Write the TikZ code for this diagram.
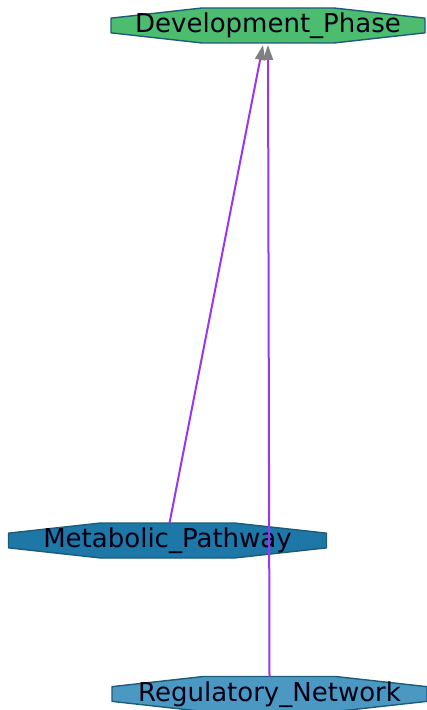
\documentclass[tikz,border=0pt]{standalone}
\usepackage{fontspec}
\setmainfont{DejaVu Sans}
\usepackage{tikz}
\usetikzlibrary{arrows.meta, positioning, calc, backgrounds}

\definecolor{phasegreen}{HTML}{4CBC6E}
\definecolor{pathblue}{HTML}{1D77A7}
\definecolor{netblue}{HTML}{4B99C3}
\definecolor{octoborder}{HTML}{1B5C78}
\definecolor{edgepurple}{HTML}{9B35F5}

% flat octagon drawn behind a named node
\newcommand{\octoshape}[2]{%
  \begin{scope}[on background layer]
    \filldraw[fill=#2, draw=octoborder, line width=0.7pt, line join=round]
      ($(#1.west)!0.42!(#1.north west)$) -- ($(#1.north west)!0.29!(#1.north east)$)
      -- ($(#1.north east)!0.29!(#1.north west)$) -- ($(#1.east)!0.42!(#1.north east)$)
      -- ($(#1.east)!0.42!(#1.south east)$) -- ($(#1.south east)!0.29!(#1.south west)$)
      -- ($(#1.south west)!0.29!(#1.south east)$) -- ($(#1.west)!0.42!(#1.south west)$) -- cycle;
  \end{scope}}

\begin{document}
\begin{tikzpicture}[x=0.5pt, y=-0.5pt,
    octo/.style={shape=rectangle, inner sep=0pt, outer sep=0pt, minimum height=17.5pt,
      text height=0.95em, text depth=0.25em,
      text=black!92!blue, font=\fontsize{13}{15}\selectfont},
    edge/.style={edgepurple, line width=1pt, -{Triangle[length=7.5pt, width=5pt, color=gray]}}]
    \useasboundingbox (0,0) rectangle (427,710);

    % Nodes
    \node[octo, minimum width=157pt] (dev) at (268,25.5) {Development\_Phase};
    \node[octo, minimum width=159pt] (meta) at (167.5,540.5) {Metabolic\_Pathway};
    \node[octo, minimum width=157.5pt] (reg) at (269.5,694) {Regulatory\_Network};

    \octoshape{dev}{phasegreen}
    \octoshape{meta}{pathblue}
    \octoshape{reg}{netblue}

    % Edges
    \draw[edge] ($(meta.north)+(2,0)$) -- ($(dev.south)+(-5,2)$);
    \draw[edge] (reg.north) -- ($(dev.south)+(0,2)$);
\end{tikzpicture}
\end{document}
